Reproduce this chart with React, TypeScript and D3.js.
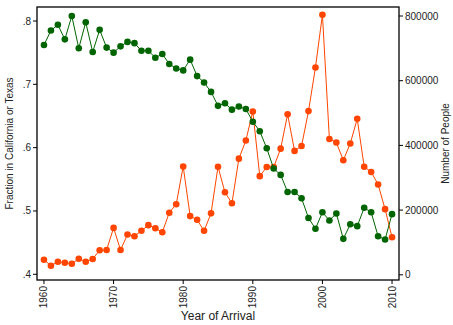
import React from "react";
import * as d3 from "d3";

// years of arrival, 1960..2010
const years: number[] = [
  1960, 1961, 1962, 1963, 1964, 1965, 1966, 1967, 1968, 1969,
  1970, 1971, 1972, 1973, 1974, 1975, 1976, 1977, 1978, 1979,
  1980, 1981, 1982, 1983, 1984, 1985, 1986, 1987, 1988, 1989,
  1990, 1991, 1992, 1993, 1994, 1995, 1996, 1997, 1998, 1999,
  2000, 2001, 2002, 2003, 2004, 2005, 2006, 2007, 2008, 2009, 2010,
];

// fraction in California or Texas (left axis)
const fraction: number[] = [
  0.762, 0.785, 0.794, 0.771, 0.808, 0.757, 0.798, 0.751, 0.786, 0.758,
  0.75, 0.76, 0.767, 0.765, 0.753, 0.753, 0.742, 0.748, 0.732, 0.725,
  0.722, 0.739, 0.713, 0.703, 0.688, 0.666, 0.67, 0.66, 0.665, 0.661,
  0.641, 0.626, 0.599, 0.567, 0.557, 0.53, 0.53, 0.52, 0.489, 0.472,
  0.498, 0.485, 0.496, 0.456, 0.479, 0.476, 0.505, 0.498, 0.46, 0.455, 0.495,
];

// number of people (right axis)
const people: number[] = [
  46700, 28000, 40500, 37400, 34200, 49800, 40500, 48900, 75700, 76800,
  145000, 76800, 124500, 119300, 136000, 153500, 144000, 131700, 192000, 218000,
  335000, 181500, 170000, 136000, 190000, 334000, 255000, 221000, 359000, 415000,
  505000, 305000, 333000, 333000, 390000, 496000, 383000, 398000, 506000, 641000,
  804000, 420000, 409000, 354000, 406000, 482000, 334000, 318000, 279000, 203000, 116000,
];

const xTicks = [1960, 1970, 1980, 1990, 2000, 2010];
const leftTicks = [0.4, 0.5, 0.6, 0.7, 0.8];
const rightTicks = [0, 200000, 400000, 600000, 800000];

const W = 453;
const H = 325;
const frame = { left: 37, right: 399, top: 7, bottom: 280 };
const GREEN = "#006400";
const ORANGE = "#ff4500";
const FONT = "'Liberation Sans', Arial, Helvetica, sans-serif";

const App: React.FC = () => {
  const x = d3.scaleLinear().domain([1959, 2011]).range([frame.left, frame.right]);
  const yL = d3.scaleLinear().domain([0.4, 0.8]).range([274.3, 21]);
  const yR = d3.scaleLinear().domain([0, 800000]).range([274.8, 16]);

  const greenPts = years.map((yr, i) => [x(yr), yL(fraction[i])] as [number, number]);
  const orangePts = years.map((yr, i) => [x(yr), yR(people[i])] as [number, number]);
  const line = d3.line();

  return (
    <svg
      width={W}
      height={H}
      style={{ position: "absolute", left: 0, top: 0, background: "#fff" }}
      fontFamily={FONT}
    >
      <rect width={W} height={H} fill="#fff" />

      {/* series */}
      <path d={line(orangePts) || ""} fill="none" stroke={ORANGE} strokeWidth={1} />
      {orangePts.map((p, i) => (
        <circle key={"o" + i} cx={p[0]} cy={p[1]} r={3.3} fill={ORANGE} />
      ))}
      <path d={line(greenPts) || ""} fill="none" stroke={GREEN} strokeWidth={1} />
      {greenPts.map((p, i) => (
        <circle key={"g" + i} cx={p[0]} cy={p[1]} r={3.3} fill={GREEN} />
      ))}

      {/* frame */}
      <rect
        x={frame.left}
        y={frame.top}
        width={frame.right - frame.left}
        height={frame.bottom - frame.top}
        fill="none"
        stroke="#000"
        strokeWidth={1.3}
      />

      {/* left axis */}
      {leftTicks.map((t) => (
        <g key={"l" + t}>
          <line x1={frame.left - 4} x2={frame.left} y1={yL(t)} y2={yL(t)} stroke="#000" />
          <text x={frame.left - 6} y={yL(t)} dy="0.35em" textAnchor="end" fontSize={10} fill="#222">
            {d3.format(".1f")(t).replace(/^0/, "")}
          </text>
        </g>
      ))}
      <text
        transform={`translate(13,${(frame.top + frame.bottom) / 2}) rotate(-90)`}
        textAnchor="middle"
        fontSize={10}
        fill="#222"
      >
        Fraction in California or Texas
      </text>

      {/* right axis */}
      {rightTicks.map((t) => (
        <g key={"r" + t}>
          <line x1={frame.right} x2={frame.right + 4} y1={yR(t)} y2={yR(t)} stroke="#000" />
          <text x={frame.right + 6} y={yR(t)} dy="0.35em" textAnchor="start" fontSize={10} fill="#222">
            {t}
          </text>
        </g>
      ))}
      <text
        transform={`translate(449,${(frame.top + frame.bottom) / 2}) rotate(-90)`}
        textAnchor="middle"
        fontSize={10}
        fill="#222"
      >
        Number of People
      </text>

      {/* bottom axis */}
      {xTicks.map((t) => (
        <g key={"x" + t}>
          <line x1={x(t)} x2={x(t)} y1={frame.bottom} y2={frame.bottom + 4} stroke="#000" />
          <text
            transform={`translate(${x(t)},${frame.bottom + 6}) rotate(-90)`}
            textAnchor="end"
            dy="0.35em"
            fontSize={10}
            fill="#222"
          >
            {t}
          </text>
        </g>
      ))}
      <text x={(frame.left + frame.right) / 2} y={320} textAnchor="middle" fontSize={12} fill="#222">
        Year of Arrival
      </text>
    </svg>
  );
};

export default App;
